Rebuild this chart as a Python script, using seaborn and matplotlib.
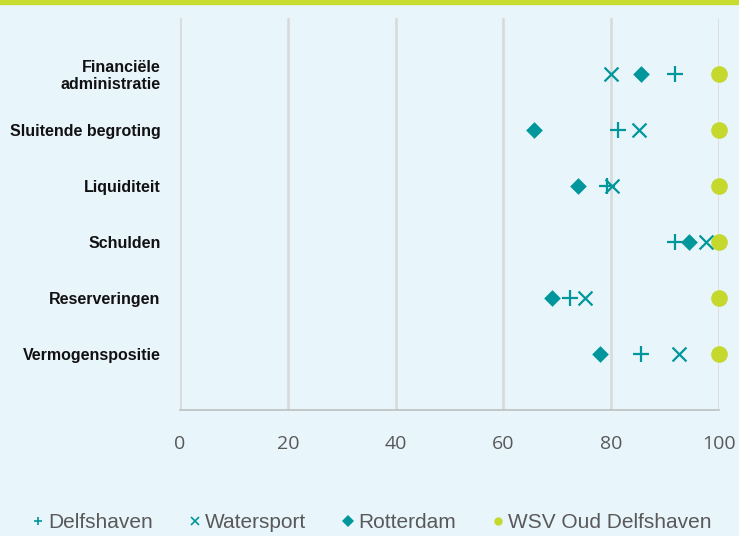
import pandas as pd
import matplotlib.pyplot as plt
import seaborn as sns
from matplotlib.lines import Line2D
from matplotlib.patches import Rectangle

categories = ["Financiële\nadministratie", "Sluitende begroting", "Liquiditeit",
              "Schulden", "Reserveringen", "Vermogenspositie"]
delfshaven = [91.8, 81.3, 79.2, 91.8, 72.4, 85.5]
watersport = [80.0, 85.2, 80.1, 97.6, 75.1, 92.6]
rotterdam = [85.5, 65.7, 73.8, 94.4, 69.0, 77.9]
wsv = [100, 100, 100, 100, 100, 100]

teal = "#00979C"
lime = "#C5D82E"
bg = "#E8F5FB"

series = [
    ("Delfshaven", delfshaven, "+", teal, 11),
    ("Watersport", watersport, "x", teal, 10),
    ("Rotterdam", rotterdam, "D", teal, 8.5),
    ("WSV Oud Delfshaven", wsv, "o", lime, 12),
]

sns.set_style("white")
plt.rcParams['font.family'] = ['Liberation Sans', 'DejaVu Sans']

fig = plt.figure(figsize=(7.39, 5.36), dpi=100, facecolor=bg)
ax = fig.add_axes([180/739, 1 - 410/536, 539/739, 392/536])
ax.set_facecolor(bg)

for name, vals, marker, color, size in series:
    df = pd.DataFrame({"waarde": vals, "pos": range(len(categories))})
    lw = 1.6 if marker in ("+", "x") else 0
    sns.scatterplot(data=df, x="waarde", y="pos", marker=marker, color=color,
                    s=size**2, linewidth=lw, ax=ax, zorder=3)
for coll in ax.collections:
    coll.set_clip_on(False)

ax.set_xlim(0, 100)
ax.set_ylim(6, -1)
ax.set_xticks(range(0, 101, 20))
ax.set_yticks(range(len(categories)))
ax.set_yticklabels(categories, fontweight="bold", fontsize=11.5, color="#111111",
                   linespacing=1.15)
ax.set_xlabel("")
ax.set_ylabel("")
ax.grid(axis="x", color="#D9D9D9", linewidth=1.8, zorder=0)
ax.set_axisbelow(True)
for side in ["top", "right", "left"]:
    ax.spines[side].set_visible(False)
ax.spines["bottom"].set_color("#BFBFBF")
ax.spines["bottom"].set_linewidth(1.2)
ax.tick_params(axis="x", length=0, pad=18, labelsize=14, labelcolor="#595959")
ax.tick_params(axis="y", length=0, pad=14)
for lbl in ax.get_xticklabels():
    lbl.set_fontfamily(["Open Sans", "DejaVu Sans"])

handles = [Line2D([], [], linestyle="", marker=m, color=c, markersize=6,
                  markeredgewidth=1.2 if m in ("+", "x") else 0)
           for _, _, m, c, _ in series]
fig.legend(handles, [s[0] for s in series], loc="center", ncol=4,
           bbox_to_anchor=(0.5, 1 - 523/536), frameon=False, fontsize=15,
           labelcolor="#595959", handletextpad=0.0, columnspacing=1.5,
           handlelength=1.0)

fig.patches.append(Rectangle((0, 1 - 4/536), 1, 4/536, transform=fig.transFigure,
                             color="#C8DC32", zorder=5))

fig.savefig("out.png", dpi=100, facecolor=bg)
